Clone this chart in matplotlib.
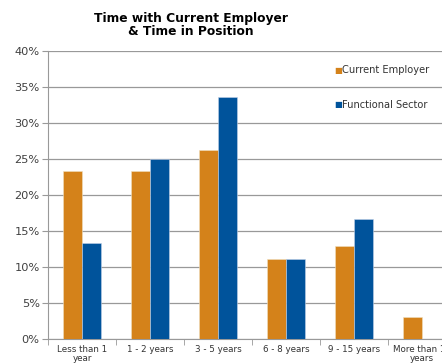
import matplotlib
matplotlib.use("Agg")
import matplotlib.pyplot as plt
import numpy as np

categories = ["Less than 1\nyear", "1 - 2 years", "3 - 5 years", "6 - 8 years",
              "9 - 15 years", "More than 15\nyears"]
current_employer = [23.3, 23.3, 26.3, 11.1, 12.9, 3.0]
functional_sector = [13.3, 25.0, 33.6, 11.1, 16.7, 0.0]
y_ticks = [0, 5, 10, 15, 20, 25, 30, 35, 40]

orange = '#D4821A'
blue = '#00539B'

fig = plt.figure(figsize=(4.42, 3.63), dpi=100)
fig.patch.set_facecolor('white')
# plot area runs past the right edge of the figure
ax = fig.add_axes([48 / 442, (363 - 339) / 363, 408 / 442, 288 / 363])

x = np.arange(len(categories))
w = 0.285
ax.bar(x - w / 2, current_employer, width=w, color=orange, edgecolor='#f0e0c0', linewidth=0.4, zorder=3)
ax.bar(x + w / 2, functional_sector, width=w, color=blue, edgecolor='#c0d0e8', linewidth=0.4, zorder=3)

ax.set_xlim(-0.5, len(categories) - 0.5)
ax.set_ylim(0, 40)
ax.set_yticks(y_ticks)
ax.set_yticklabels([f"{v}%" for v in y_ticks], fontsize=8.2, color='#404040')
ax.yaxis.grid(True, color='#999999', linewidth=0.9, zorder=0)
ax.set_xticks(x)
ax.set_xticklabels(categories, fontsize=6.3, color='#333333', linespacing=0.95)
ax.tick_params(axis='x', length=0, pad=4.5)
ax.tick_params(axis='y', length=4, color='#999999', pad=2)
ax.set_xticks(np.arange(len(categories) + 1) - 0.5, minor=True)
ax.tick_params(axis='x', which='minor', length=4, color='#999999')

for side in ['top', 'right']:
    ax.spines[side].set_visible(False)
ax.spines['left'].set_color('#999999')
ax.spines['bottom'].set_color('#999999')

fig.text(191 / 442, 1 - 25 / 363, "Time with Current Employer\n& Time in Position",
         ha='center', va='center', fontsize=8.8, fontweight='bold', linespacing=1.0)

# legend drawn as square markers with labels
for label, color, ypos in [("Current Employer", orange, 70), ("Functional Sector", blue, 105)]:
    fig.text(338 / 442, 1 - ypos / 363, "\u25a0", color=color, ha='center', va='center', fontsize=6)
    fig.text(342 / 442, 1 - ypos / 363, label, color='#333333', ha='left', va='center', fontsize=7.1)

plt.savefig('out.png', dpi=100, facecolor=fig.get_facecolor())
